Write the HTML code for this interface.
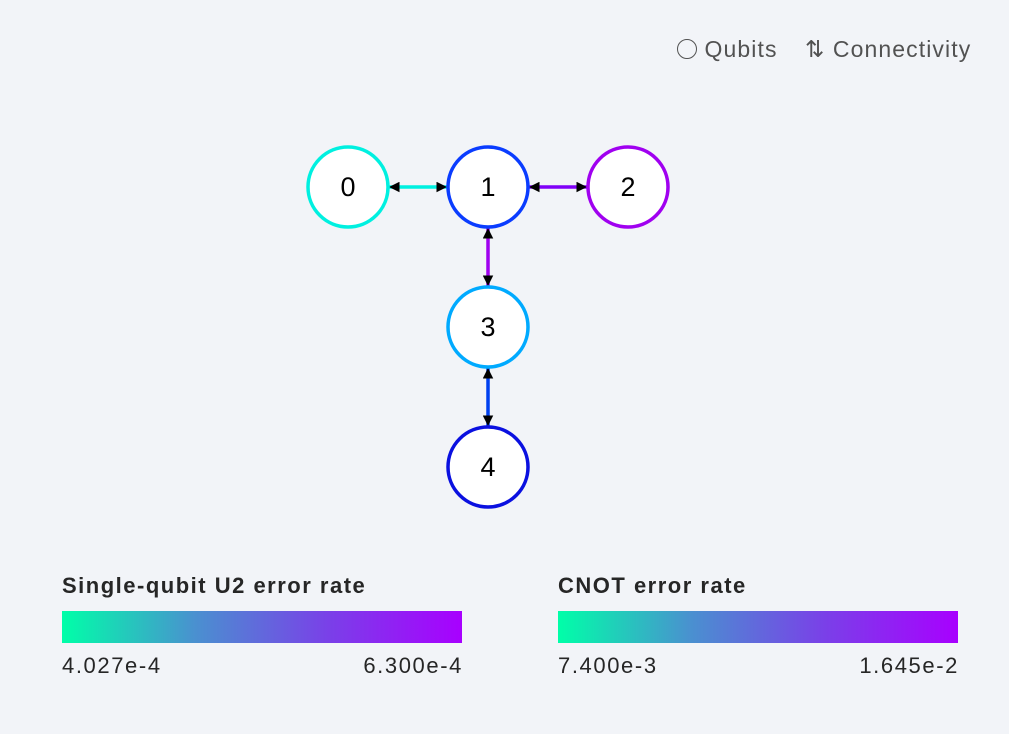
<!DOCTYPE html>
<html><head><meta charset="utf-8"><style>
body{margin:0;background:#f2f4f8;font-family:"Liberation Sans",sans-serif;}
#wrap{position:relative;width:1009px;height:734px;background:#f2f4f8;overflow:hidden}
.leg{position:absolute;top:36px;font-size:23px;color:#525252;letter-spacing:1.1px}
.cb-title{position:absolute;font-size:22px;font-weight:bold;color:#262626;letter-spacing:1.5px}
.cb{position:absolute;height:32px;width:400px;background:linear-gradient(to right,#00ffa8,#4a90d0,#7a40e8,#a800ff)}
.cb-lab{position:absolute;font-size:22px;color:#262626;letter-spacing:1.6px}
</style></head><body>
<div id="wrap">
<div class="leg" style="left:677px"><span style="display:inline-block;width:18px;height:18px;border:1.5px solid #525252;border-radius:50%;vertical-align:-2px"></span> Qubits</div>
<div class="leg" style="left:805px">⇅ Connectivity</div>
<svg id="g" width="1009" height="560" style="position:absolute;left:0;top:0">
<defs><marker id="ah" viewBox="0 0 10 10" refX="10" refY="5" markerWidth="3" markerHeight="3" orient="auto-start-reverse"><path d="M0,0L10,5L0,10z" fill="#000"/></marker></defs>
</svg>
<div class="cb-title" style="left:62px;top:573px">Single-qubit U2 error rate</div>
<div class="cb" style="left:62px;top:611px"></div>
<div class="cb-lab" style="left:62px;top:653px">4.027e-4</div>
<div class="cb-lab" style="right:546px;top:653px">6.300e-4</div>
<div class="cb-title" style="left:558px;top:573px">CNOT error rate</div>
<div class="cb" style="left:558px;top:611px"></div>
<div class="cb-lab" style="left:558px;top:653px">7.400e-3</div>
<div class="cb-lab" style="right:50px;top:653px">1.645e-2</div>
</div>
<script>
const qubitIds=[0,1,2,3,4];
const qubitCol=[0,1,2,1,1];
const qubitRow=[0,0,0,1,2];
const qubitColors=["#00f0e0","#0a3cff","#a000f0","#00aaff","#0a10e0"];
const edgeFrom=[0,1,1,3];
const edgeTo=[1,2,3,4];
const edgeColors=["#00f0e0","#8000f8","#a000f0","#0040f0"];
const sx=c=>348+c*140, sy=r=>187+r*140, R=40;
const svg=document.getElementById('g'),NS="http://www.w3.org/2000/svg";
edgeFrom.forEach((a,i)=>{
 const b=edgeTo[i];
 const x1=sx(qubitCol[a]),y1=sy(qubitRow[a]),x2=sx(qubitCol[b]),y2=sy(qubitRow[b]);
 const d=Math.hypot(x2-x1,y2-y1),ux=(x2-x1)/d,uy=(y2-y1)/d,o=R+1;
 const l=document.createElementNS(NS,'line');
 l.setAttribute('x1',x1+ux*o);l.setAttribute('y1',y1+uy*o);
 l.setAttribute('x2',x2-ux*o);l.setAttribute('y2',y2-uy*o);
 l.setAttribute('stroke',edgeColors[i]);l.setAttribute('stroke-width',3.5);
 l.setAttribute('marker-start','url(#ah)');l.setAttribute('marker-end','url(#ah)');
 
 
 svg.appendChild(l);
});
qubitIds.forEach((q,i)=>{
 const c=document.createElementNS(NS,'circle');
 c.setAttribute('cx',sx(qubitCol[i]));c.setAttribute('cy',sy(qubitRow[i]));c.setAttribute('r',R);
 c.setAttribute('fill','#fff');c.setAttribute('stroke',qubitColors[i]);c.setAttribute('stroke-width',3.5);
 
 
 svg.appendChild(c);
 const t=document.createElementNS(NS,'text');
 t.setAttribute('x',sx(qubitCol[i]));t.setAttribute('y',sy(qubitRow[i])+9);
 t.setAttribute('text-anchor','middle');t.setAttribute('font-size',27);
 t.setAttribute('font-family','Liberation Sans, sans-serif');t.textContent=q;
 
 
 svg.appendChild(t);
});
</script>
</body></html>
